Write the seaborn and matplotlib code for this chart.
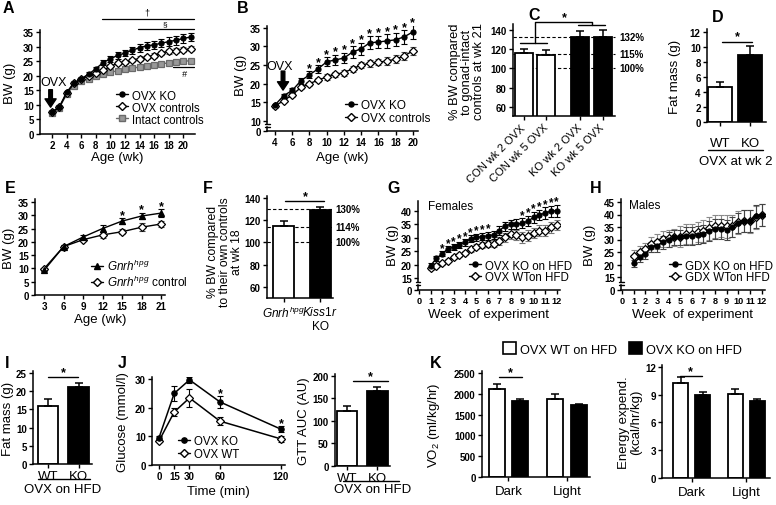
import numpy as np
import pandas as pd
import matplotlib.pyplot as plt
import matplotlib.lines as mlines
import matplotlib.patches as mpatches
from matplotlib.transforms import blended_transform_factory
import seaborn as sns

W, H = 776, 506

# ---------------- data ----------------
# A: body weight, OVX at week 2
a_weeks = list(range(2, 22))
a_ko = [7.6, 9.3, 14.3, 17.5, 19.0, 20.5, 22.4, 24.5, 25.8, 27.0, 27.8, 28.8, 29.6, 30.3, 30.6, 31.2, 31.7, 32.2, 32.8, 33.3]
a_ko_err = [0.3, 0.4, 0.6, 0.6, 0.6, 0.7, 0.7, 0.9, 1.0, 1.1, 1.1, 1.2, 1.3, 1.3, 1.4, 1.4, 1.5, 1.5, 1.5, 1.5]
a_ctrl = [7.5, 9.2, 14.0, 17.5, 18.8, 20.0, 20.8, 21.8, 23.2, 24.3, 24.6, 25.3, 25.9, 26.4, 26.9, 27.8, 28.4, 28.6, 28.9, 29.3]
a_ctrl_err = [0.3, 0.3, 0.5, 0.5, 0.5, 0.6, 0.6, 0.6, 0.7, 0.7, 0.7, 0.7, 0.8, 0.8, 0.8, 0.8, 0.8, 0.8, 0.9, 0.9]
a_intact = [7.3, 9.0, 13.6, 16.6, 18.2, 18.9, 19.8, 20.6, 21.2, 21.7, 22.2, 22.6, 23.0, 23.4, 23.8, 24.1, 24.4, 24.6, 24.9, 25.2]
a_intact_err = [0.3, 0.3, 0.4, 0.4, 0.4, 0.4, 0.4, 0.4, 0.5, 0.5, 0.5, 0.5, 0.5, 0.5, 0.5, 0.5, 0.5, 0.5, 0.5, 0.5]

# B: body weight, OVX at week 5
b_weeks = list(range(4, 21))
b_ko = [14.3, 16.8, 18.2, 20.8, 22.4, 24.0, 25.9, 26.4, 26.9, 28.5, 29.4, 31.0, 31.2, 31.5, 31.8, 32.6, 33.9]
b_ko_err = [0.4, 0.5, 0.6, 0.8, 0.9, 1.0, 1.2, 1.3, 1.4, 1.5, 1.6, 1.7, 1.7, 1.8, 1.8, 1.8, 1.8]
b_ctrl = [14.0, 15.5, 17.0, 19.0, 20.0, 21.0, 21.8, 22.5, 23.0, 24.0, 25.0, 25.5, 25.8, 26.1, 26.6, 27.5, 28.8]
b_ctrl_err = [0.4, 0.4, 0.5, 0.5, 0.6, 0.6, 0.7, 0.7, 0.8, 0.8, 0.9, 0.9, 0.9, 1.0, 1.0, 1.0, 1.0]
b_star_weeks = list(range(8, 21))

# C: % BW vs gonad-intact controls at wk 21
c_labels = ['CON wk 2 OVX', 'CON wk 5 OVX', 'KO wk 2 OVX', 'KO wk 5 OVX']
c_geno = ['CON', 'CON', 'KO', 'KO']
c_week = ['wk 2', 'wk 5', 'wk 2', 'wk 5']
c_vals = [116, 114, 132.5, 133]
c_err = [4, 5, 6.3, 7]
c_ref = [132, 115, 100]

# D: fat mass
d_cats = ['WT', 'KO']
d_vals = [4.7, 8.9]
d_err = [0.6, 1.2]

# E: Gnrh hpg body weight
e_weeks = [3, 6, 9, 12, 15, 18, 21]
e_hpg = [9.3, 18.2, 21.8, 25.0, 27.8, 29.7, 30.8]
e_hpg_err = [0.4, 0.5, 0.6, 1.3, 1.0, 1.2, 1.5]
e_ctrl = [9.9, 18.2, 20.8, 22.6, 23.8, 25.5, 26.7]
e_ctrl_err = [0.4, 0.5, 0.6, 1.0, 1.0, 1.4, 1.3]
e_star_weeks = [15, 18, 21]

# F: % BW vs own controls at wk 18
f_cats = [r'$Gnrh^{hpg}$', '$Kiss1r$\nKO']
f_vals = [114.5, 129]
f_err = [4.5, 2.5]
f_ref = [130, 114, 100]

# G: females on HFD
g_weeks = [1, 1.5, 2, 2.5, 3, 3.5, 4, 4.5, 5, 5.5, 6, 6.5, 7, 7.5, 8, 8.5, 9, 9.5, 10, 10.5, 11, 11.5, 12]
g_ko = [19.6, 22.3, 24.0, 25.8, 26.5, 27.3, 28.3, 29.6, 30.2, 30.4, 30.8, 31.1, 32.7, 34.3, 35.1, 35.1, 35.4, 36.2, 37.6, 38.5, 39.2, 39.9, 40.1]
g_ko_err = [0.8, 0.8, 0.9, 1.0, 1.0, 1.1, 1.2, 1.3, 1.3, 1.4, 1.5, 1.5, 1.5, 1.6, 1.7, 1.8, 1.8, 1.9, 2.0, 2.0, 2.1, 2.1, 2.2]
g_wt = [18.6, 19.6, 20.5, 21.5, 22.7, 23.6, 24.3, 25.8, 26.7, 27.3, 27.7, 27.7, 28.9, 30.2, 31.4, 31.0, 30.2, 30.8, 31.8, 32.7, 32.7, 33.9, 34.8]
g_wt_err = [0.6, 0.6, 0.7, 0.7, 0.8, 0.8, 0.9, 1.0, 1.0, 1.1, 1.2, 1.3, 1.5, 1.7, 1.8, 1.9, 2.0, 2.0, 2.0, 2.0, 2.0, 2.0, 2.0]
g_star_weeks = [2, 2.5, 3, 3.5, 4, 4.5, 5, 5.5, 6, 9, 9.5, 10, 10.5, 11, 11.5, 12]

# H: males on HFD
h_weeks = g_weeks
h_ko = [20.5, 22.9, 24.2, 26.9, 27.5, 28.9, 29.9, 30.9, 30.9, 31.5, 31.5, 31.8, 32.2, 33.5, 34.2, 34.2, 33.9, 34.9, 36.6, 37.5, 37.5, 39.3, 39.8]
h_ko_err = [1.5, 2.0, 2.0, 2.0, 2.5, 2.5, 3.0, 3.0, 3.0, 3.5, 3.5, 3.5, 3.5, 4.0, 4.0, 4.0, 4.0, 4.0, 4.0, 4.5, 4.5, 4.5, 4.5]
h_wt = [23.3, 24.9, 26.2, 28.2, 29.1, 30.2, 30.5, 30.9, 31.2, 32.2, 32.2, 32.9, 33.5, 34.5, 35.3, 35.5, 35.3, 35.5, 36.9, 37.5, 37.2, 38.9, 39.8]
h_wt_err = [2.5, 2.5, 2.5, 3.0, 3.0, 3.0, 3.5, 3.5, 4.0, 4.0, 4.0, 4.0, 4.5, 4.5, 4.5, 4.5, 4.5, 4.5, 4.5, 4.5, 4.5, 4.5, 4.5]

# I: fat mass on HFD
i_cats = ['WT', 'KO']
i_vals = [15.8, 21.2]
i_err = [2.0, 1.1]

# J: GTT
j_times = [0, 15, 30, 60, 120]
j_ko = [9.5, 25.0, 29.7, 22.0, 12.5]
j_ko_err = [0.5, 2.5, 1.0, 2.0, 1.0]
j_wt = [8.4, 18.5, 23.4, 15.3, 9.1]
j_wt_err = [0.4, 1.5, 3.0, 1.5, 1.0]
j_star_times = [60, 120]
auc_cats = ['WT', 'KO']
auc_vals = [121, 166]
auc_err = [11, 10]

# K: indirect calorimetry
k_phase = ['Dark', 'Dark', 'Light', 'Light']
k_group = ['OVX WT on HFD', 'OVX KO on HFD', 'OVX WT on HFD', 'OVX KO on HFD']
k_vo2 = [2120, 1820, 1870, 1730]
k_vo2_err = [120, 50, 130, 35]
k_ee = [10.3, 9.0, 9.05, 8.35]
k_ee_err = [0.6, 0.25, 0.6, 0.15]

# ---------------- style ----------------
sns.set_style('ticks')
plt.rcParams['font.family'] = ['Liberation Sans', 'DejaVu Sans']
plt.rcParams['mathtext.fontset'] = 'custom'
plt.rcParams['mathtext.rm'] = 'Liberation Sans'
plt.rcParams['mathtext.it'] = 'Liberation Sans:italic'
plt.rcParams['mathtext.bf'] = 'Liberation Sans:bold'
plt.rcParams['axes.linewidth'] = 1.1
plt.rcParams['axes.edgecolor'] = 'black'
plt.rcParams['axes.labelcolor'] = 'black'
plt.rcParams['text.color'] = 'black'
plt.rcParams['xtick.color'] = 'black'
plt.rcParams['ytick.color'] = 'black'

fig = plt.figure(figsize=(W / 100, H / 100), dpi=100)

TB = dict(fontweight='bold', fontsize=7)


def px_ax(l, t, r, b):
    ax = fig.add_axes([l / W, 1 - b / H, (r - l) / W, (b - t) / H])
    sns.despine(ax=ax)
    ax.tick_params(length=3, width=1.0, pad=1.5, labelsize=7)
    ax.set_facecolor('none')
    return ax


def broken_ax(l, t, r, bm, b):
    ax = px_ax(l, t, r, bm)
    ax.spines['bottom'].set_visible(False)
    ax.tick_params(bottom=False, labelbottom=False)
    ax0 = px_ax(l, bm + 3, r, b)
    ax0.set_ylim(0, 1)
    ax0.set_yticks([0], ['0'], **TB)
    for yy in (bm, bm + 3):
        fig_line(l - 2.5, yy, l + 2.5, yy, lw=1.0)
    return ax, ax0


def fig_line(x1, y1, x2, y2, lw=1.0):
    fig.add_artist(mlines.Line2D([x1 / W, x2 / W], [1 - y1 / H, 1 - y2 / H], color='k', lw=lw))


def fig_text(x, y, s, **kw):
    kw.setdefault('ha', 'center')
    kw.setdefault('va', 'center')
    fig.text(x / W, 1 - y / H, s, **kw)


def ylab(ax, text, xc, yc=None, fs=9.5):
    pos = ax.get_position()
    l, r = pos.x0 * W, pos.x1 * W
    top, bot = (1 - pos.y1) * H, (1 - pos.y0) * H
    ax.set_ylabel(text, fontsize=fs, va='center', ha='center', linespacing=1.0)
    ax.yaxis.set_label_coords((xc - l) / (r - l), 0.5 if yc is None else (bot - yc) / (bot - top))


def xlab(ax, text, yc, xc=None, fs=9.5):
    pos = ax.get_position()
    l, r = pos.x0 * W, pos.x1 * W
    top, bot = (1 - pos.y1) * H, (1 - pos.y0) * H
    ax.set_xlabel(text, fontsize=fs, va='center', ha='center')
    ax.xaxis.set_label_coords(0.5 if xc is None else (xc - l) / (r - l), (bot - yc) / (bot - top))


def series(ax, x, y, err, marker, mfc, color, ecolor, ms, lw=1.0):
    ax.errorbar(x, y, yerr=err, fmt='none', ecolor=ecolor, elinewidth=0.8,
                capsize=2, capthick=0.8, zorder=2)
    sns.lineplot(x=x, y=y, ax=ax, color=color, marker=marker, markersize=ms,
                 markerfacecolor=mfc, markeredgecolor=color, markeredgewidth=0.9,
                 linewidth=lw, zorder=3, errorbar=None)


def handle(marker, mfc, color, ms):
    return mlines.Line2D([], [], color=color, marker=marker, markerfacecolor=mfc,
                         markeredgecolor=color, markersize=ms, lw=1.0)


def leg(ax, handles, labels, x, y, fs=8.3, ls=0.0):
    ax.legend(handles, labels, loc='upper left', bbox_to_anchor=(x / W, 1 - y / H),
              bbox_transform=fig.transFigure, frameon=False, fontsize=fs, borderpad=0,
              borderaxespad=0, handlelength=1.05, handletextpad=0.3, labelspacing=ls)


def star(ax, x, y, dy=0.0, fs=9):
    ax.annotate('*', (x, y), xytext=(0, dy), textcoords='offset points', ha='center',
                va='baseline', fontsize=fs, fontweight='bold', annotation_clip=False)


def bracket(ax, x1, x2, y):
    ax.plot([x1, x2], [y, y], color='k', lw=1.0, clip_on=False)


def bars(ax, cats, vals, errs, colors, width):
    df = pd.DataFrame({'grp': cats, 'val': vals})
    sns.barplot(data=df, x='grp', y='val', hue='grp', palette=dict(zip(cats, colors)),
                legend=False, width=width, edgecolor='k', linewidth=1.3, errorbar=None,
                ax=ax, zorder=2)
    xs = sorted(p.get_x() + p.get_width() / 2 for p in ax.patches)
    ax.errorbar(xs, vals, yerr=[np.zeros(len(vals)), errs], fmt='none', ecolor='k',
                elinewidth=1.1, capsize=3, capthick=1.1, zorder=3)
    ax.set_xlabel('')
    return xs


def grouped_bars(ax, x, hue, vals, errs, gap):
    df = pd.DataFrame({'x': x, 'hue': hue, 'val': vals})
    sns.barplot(data=df, x='x', y='val', hue='hue', palette=['white', 'black'],
                legend=False, width=0.8, gap=gap, edgecolor='k', linewidth=1.3,
                errorbar=None, ax=ax, zorder=2)
    patches = sorted(ax.patches, key=lambda p: p.get_x())
    xs = [p.get_x() + p.get_width() / 2 for p in patches]
    ax.errorbar(xs, vals, yerr=[np.zeros(len(vals)), errs], fmt='none', ecolor='k',
                elinewidth=1.1, capsize=3, capthick=1.1, zorder=3)
    ax.set_xlabel('')
    return patches, xs


def ref_lines(ax, refs):
    tr = blended_transform_factory(ax.transAxes, ax.transData)
    for v in refs:
        ax.axhline(v, color='k', lw=0.8, ls=(0, (3, 2)), zorder=1, clip_on=False)
        ax.text(1.04, v, f'{v}%', transform=tr, ha='left', va='center', **TB)


def yticks(ax, ticks):
    ax.set_yticks(ticks, [str(t) for t in ticks], **TB)


def xticks(ax, ticks):
    ax.set_xticks(ticks, [str(t) for t in ticks], **TB)


# ---------------- A ----------------
axA = px_ax(40, 31, 195, 135)
series(axA, a_weeks, a_intact, a_intact_err, 's', '#999999', '#6a6a6a', '#6a6a6a', 4.2)
series(axA, a_weeks, a_ctrl, a_ctrl_err, 'D', 'white', 'k', '#555555', 4.2)
series(axA, a_weeks, a_ko, a_ko_err, 'o', 'k', 'k', 'k', 3.6)
axA.set_xlim(0.35, 21.6)
axA.set_ylim(0, 35.7)
xticks(axA, list(range(2, 21, 2)))
yticks(axA, list(range(0, 36, 5)))
ylab(axA, 'BW (g)', 10)
xlab(axA, 'Age (wk)', 158)
axA.annotate('', xy=(1.8, 9.2), xytext=(1.8, 15.2),
             arrowprops=dict(width=2.6, headwidth=8, headlength=6, color='k'))
axA.text(2.27, 17.7, 'OVX', ha='center', va='center', fontsize=9)
axA.plot([8.9, 21.4], [39.4, 39.4], color='k', lw=0.9, clip_on=False)
axA.text(15.0, 40.2, '\u2020', ha='center', va='bottom', fontsize=6.5)
axA.plot([13.8, 21.4], [36.1, 36.1], color='k', lw=0.9, clip_on=False)
axA.text(17.4, 36.6, '\u00a7', ha='center', va='bottom', fontsize=6)
axA.plot([18.6, 21.4], [23.1, 23.1], color='k', lw=0.9)
axA.text(20.1, 22.3, '#', ha='center', va='top', fontsize=6.5, fontstyle='italic')
leg(axA, [handle('o', 'k', 'k', 3.6), handle('D', 'white', 'k', 4.2),
          handle('s', '#999999', '#6a6a6a', 4.2)],
    ['OVX KO', 'OVX controls', 'Intact controls'], 116, 90.5)

# ---------------- B ----------------
axB, axB0 = broken_ax(267, 27, 418, 125, 132)
series(axB, b_weeks, b_ctrl, b_ctrl_err, 'D', 'white', 'k', '#555555', 4.2)
series(axB, b_weeks, b_ko, b_ko_err, 'o', 'k', 'k', 'k', 3.6)
for ax in (axB, axB0):
    ax.set_xlim(3.07, 20.6)
axB.set_ylim(9.2, 35.5)
yticks(axB, list(range(10, 36, 5)))
xticks(axB0, list(range(4, 21, 2)))
ylab(axB, 'BW (g)', 241, 75)
xlab(axB0, 'Age (wk)', 158)
for wk in b_star_weeks:
    i = b_weeks.index(wk)
    star(axB, wk, b_ko[i] + b_ko_err[i], dy=0.3)
axB.annotate('', xy=(4.93, 18.3), xytext=(4.93, 23.4),
             arrowprops=dict(width=2.6, headwidth=8, headlength=6, color='k'))
axB.text(4.58, 24.8, 'OVX', ha='center', va='center', fontsize=9)
leg(axB, [handle('o', 'k', 'k', 3.6), handle('D', 'white', 'k', 4.2)],
    ['OVX KO', 'OVX controls'], 345, 100.5, fs=8.5, ls=0.07)

# ---------------- C ----------------
axC = px_ax(513, 25, 615, 117)
dfc = pd.DataFrame({'geno': c_geno, 'week': c_week, 'val': c_vals})
sns.barplot(data=dfc, x='geno', y='val', hue='week', palette=['white', 'white'],
            legend=False, width=0.8, gap=0.2, edgecolor='k', linewidth=1.3,
            errorbar=None, ax=axC, zorder=2)
c_patches = sorted(axC.patches, key=lambda p: p.get_x())
for p, g in zip(c_patches, c_geno):
    p.set_facecolor('black' if g == 'KO' else 'white')
c_xs = [p.get_x() + p.get_width() / 2 for p in c_patches]
axC.errorbar(c_xs, c_vals, yerr=[np.zeros(4), c_err], fmt='none', ecolor='k',
             elinewidth=1.1, capsize=3, capthick=1.1, zorder=3)
axC.set_xlabel('')
axC.set_xlim(-0.39, 1.42)
axC.set_ylim(50.4, 146)
yticks(axC, [60, 80, 100, 120, 140])
axC.set_xticks(c_xs, c_labels, rotation=45, ha='right', va='center',
               rotation_mode='anchor', fontsize=8)
axC.tick_params(axis='x', pad=4)
ref_lines(axC, c_ref)
ylab(axC, '% BW compared\nto gonad-intact\ncontrols at wk 21', 467, 72, fs=9.3)
bracket(axC, -0.27, 0.21, 126.5)
axC.plot([0, 0, 1.01, 1.01], [126.5, 148, 148, 144.5], color='k', lw=1.0, clip_on=False)
bracket(axC, 0.76, 1.24, 144.5)
star(axC, 0.53, 148, dy=1.5)

# ---------------- D ----------------
axD = px_ax(707, 30, 766, 123)
bars(axD, d_cats, d_vals, d_err, ['white', 'black'], 0.8)
axD.set_xlim(-0.45, 1.52)
axD.set_ylim(0, 12.4)
yticks(axD, list(range(0, 13, 2)))
axD.set_ylabel('')
axD.tick_params(axis='x', labelsize=9.5, pad=8)
ylab(axD, 'Fat mass (g)', 675)
bracket(axD, 0.05, 1.05, 10.7)
star(axD, 0.55, 10.7, dy=1.5)
fig_line(708, 151, 763, 151)
fig_text(736, 162, 'OVX at wk 2', fontsize=9.5)

# ---------------- E ----------------
axE = px_ax(35, 200, 165, 296)
series(axE, e_weeks, e_ctrl, e_ctrl_err, 'D', 'white', 'k', '#444444', 4.2)
series(axE, e_weeks, e_hpg, e_hpg_err, '^', 'k', 'k', 'k', 4.0)
axE.set_xlim(1.6, 21.6)
axE.set_ylim(0, 36.1)
xticks(axE, e_weeks)
yticks(axE, list(range(0, 36, 5)))
ylab(axE, 'BW (g)', 9)
xlab(axE, 'Age (wk)', 320)
for wk in e_star_weeks:
    i = e_weeks.index(wk)
    star(axE, wk, max(e_hpg[i] + e_hpg_err[i], e_ctrl[i] + e_ctrl_err[i]), dy=0.3)
leg(axE, [handle('^', 'k', 'k', 4.0), handle('D', 'white', 'k', 4.2)],
    [r'$Gnrh^{hpg}$', r'$Gnrh^{hpg}$ control'], 91, 259, fs=8.5, ls=0.05)

# ---------------- F ----------------
axF = px_ax(267, 197, 333, 299)
bars(axF, f_cats, f_vals, f_err, ['white', 'black'], 0.58)
axF.set_xlim(-0.45, 1.35)
axF.set_ylim(50, 141.8)
yticks(axF, [60, 80, 100, 120, 140])
axF.tick_params(axis='x', labelsize=8.6, pad=2)
ref_lines(axF, f_ref)
ylab(axF, '% BW compared\nto their own controls\nat wk 18', 225, 252, fs=8.8)
bracket(axF, 0.05, 1.1, 137.3)
star(axF, 0.6, 137.3, dy=1.5)

# ---------------- G ----------------
axG, axG0 = broken_ax(418, 202, 560, 283, 291)
series(axG, g_weeks, g_wt, g_wt_err, 'D', 'white', 'k', '#777777', 4.0)
series(axG, g_weeks, g_ko, g_ko_err, 'o', 'k', 'k', 'k', 3.6)
for ax in (axG, axG0):
    ax.set_xlim(-0.1, 12.3)
axG.set_ylim(13.5, 43.7)
yticks(axG, list(range(15, 41, 5)))
axG0.set_xticks(list(range(0, 13)), [str(t) for t in range(0, 13)], fontweight='bold', fontsize=6.6)
ylab(axG, 'BW (g)', 393, 245)
xlab(axG0, 'Week  of experiment', 315, fs=9.5)
for wk in g_star_weeks:
    i = g_weeks.index(wk)
    star(axG, wk, g_ko[i] + g_ko_err[i], dy=0.3, fs=8.5)
axG.text(0.75, 41.8, 'Females', ha='left', va='center', fontsize=8.5)
leg(axG, [handle('o', 'k', 'k', 3.6), handle('D', 'white', 'k', 4.0)],
    ['OVX KO on HFD', 'OVX WTon HFD'], 469, 260.5, ls=-0.05)

# ---------------- H ----------------
axH, axH0 = broken_ax(621, 200, 765, 283, 291)
series(axH, h_weeks, h_wt, h_wt_err, 'D', 'white', 'k', '#8a8a8a', 4.0)
series(axH, h_weeks, h_ko, h_ko_err, 'o', 'k', 'k', '#444444', 3.6)
for ax in (axH, axH0):
    ax.set_xlim(-0.1, 12.3)
axH.set_ylim(13, 46.2)
yticks(axH, list(range(15, 46, 5)))
axH0.set_xticks(list(range(0, 13)), [str(t) for t in range(0, 13)], fontweight='bold', fontsize=6.6)
ylab(axH, 'BW (g)', 590, 245)
xlab(axH0, 'Week  of experiment', 315, fs=9.5)
axH.text(0.6, 43.8, 'Males', ha='left', va='center', fontsize=8.5)
leg(axH, [handle('o', 'k', 'k', 3.6), handle('D', 'white', 'k', 4.0)],
    ['GDX KO on HFD', 'GDX WTon HFD'], 669, 260.5, ls=-0.05)

# ---------------- I ----------------
axI = px_ax(33, 372, 92, 465)
bars(axI, i_cats, i_vals, i_err, ['white', 'black'], 0.66)
axI.set_xlim(-0.49, 1.44)
axI.set_ylim(0, 25.5)
yticks(axI, list(range(0, 26, 5)))
axI.tick_params(axis='x', labelsize=9.5, pad=1.5)
ylab(axI, 'Fat mass (g)', 8)
bracket(axI, 0.0, 0.98, 23.9)
star(axI, 0.5, 23.9, dy=1.5)
fig_line(38, 480, 90, 480)
fig_text(63, 490, 'OVX on HFD', fontsize=9.5)

# ---------------- J ----------------
axJ = px_ax(152, 378, 285, 466)
series(axJ, j_times, j_wt, j_wt_err, 'D', 'white', 'k', 'k', 4.2, lw=1.1)
series(axJ, j_times, j_ko, j_ko_err, 'o', 'k', 'k', 'k', 3.8, lw=1.1)
axJ.set_xlim(-6.9, 124)
axJ.set_ylim(0, 30.7)
xticks(axJ, j_times)
yticks(axJ, [0, 10, 20, 30])
ylab(axJ, 'Glucose (mmol/l)', 123)
xlab(axJ, 'Time (min)', 492)
for t in j_star_times:
    i = j_times.index(t)
    star(axJ, t, j_ko[i] + j_ko_err[i], dy=0.3)
leg(axJ, [handle('o', 'k', 'k', 3.8), handle('D', 'white', 'k', 4.2)],
    ['OVX KO', 'OVX WT'], 178, 436.5, fs=8.3, ls=0.07)

axAUC = px_ax(335, 375, 390, 467)
bars(axAUC, auc_cats, auc_vals, auc_err, ['white', 'black'], 0.66)
axAUC.set_xlim(-0.39, 1.41)
axAUC.set_ylim(0, 204)
yticks(axAUC, [0, 50, 100, 150, 200])
axAUC.tick_params(axis='x', labelsize=9.5, pad=1.5)
ylab(axAUC, 'GTT AUC (AU)', 304)
bracket(axAUC, 0.2, 1.35, 189)
star(axAUC, 0.77, 189, dy=1.5)
fig_line(343, 482, 399, 482)
fig_text(373, 490, 'OVX on HFD', fontsize=9.5)

# ---------------- K ----------------
axV = px_ax(482, 372, 590, 478)
grouped_bars(axV, k_phase, k_group, k_vo2, k_vo2_err, 0.32)
axV.set_xlim(-0.45, 1.39)
axV.set_ylim(0, 2548)
yticks(axV, list(range(0, 2501, 500)))
axV.tick_params(axis='x', labelsize=9.5, pad=3)
ylab(axV, 'VO$_2$ (ml/kg/hr)', 434)
bracket(axV, -0.16, 0.23, 2404)
star(axV, 0.03, 2404, dy=1.5)

axEE = px_ax(662, 366, 770, 479)
grouped_bars(axEE, k_phase, k_group, k_ee, k_ee_err, 0.3)
axEE.set_xlim(-0.54, 1.43)
axEE.set_ylim(0, 12.2)
yticks(axEE, [0, 3, 6, 9, 12])
axEE.tick_params(axis='x', labelsize=9.5, pad=3)
ylab(axEE, 'Energy expend.\n(kcal/hr/kg)', 630)
bracket(axEE, -0.22, 0.19, 11.0)
star(axEE, -0.02, 11.0, dy=1.5)

fig.legend([mpatches.Patch(facecolor='white', edgecolor='k', lw=1.2),
            mpatches.Patch(facecolor='black', edgecolor='k', lw=1.2)],
           ['OVX WT on HFD', 'OVX KO on HFD'], loc='center left',
           bbox_to_anchor=(503 / W, 1 - 350 / H), ncol=2, frameon=False, fontsize=9.2,
           handlelength=1.0, handleheight=1.0, handletextpad=0.35, columnspacing=0.9,
           borderpad=0, borderaxespad=0)

# ---------------- panel letters ----------------
for letter, x, y in [('A', 3, 13), ('B', 237, 13), ('C', 528, 20), ('D', 712, 22),
                     ('E', 5, 193), ('F', 203, 193), ('G', 387, 193), ('H', 590, 193),
                     ('I', 5, 368), ('J', 118, 368), ('K', 430, 368)]:
    fig.text(x / W, 1 - y / H, letter, ha='left', va='baseline', fontsize=11.5,
             fontweight='bold')

fig.savefig('out.png', dpi=100)
